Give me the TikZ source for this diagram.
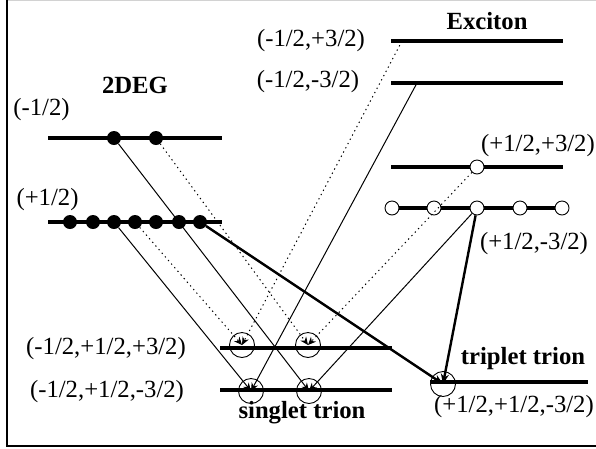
\documentclass[tikz,border=0pt]{standalone}
\usepackage{fontspec}
\setmainfont{Liberation Serif}
\usetikzlibrary{arrows.meta}
\begin{document}
\begin{tikzpicture}[x=1pt,y=-1pt,
 lev/.style={line width=4pt},
 fdot/.style={circle,fill=black,inner sep=0pt,minimum size=14pt},
 odot/.style={circle,draw=black,fill=white,line width=0.9pt,inner sep=0pt,minimum size=14pt},
 trc/.style={circle,draw=black,line width=0.9pt,inner sep=0pt,minimum size=25pt},
 lbl/.style={font=\fontsize{24.7}{28}\selectfont,inner sep=0pt},
 blbl/.style={font=\fontsize{24.7}{28}\selectfont\bfseries,inner sep=0pt},
 conn/.style={line width=1pt,-{Stealth[length=8pt,width=7pt]}},
 dconn/.style={conn,dash pattern=on 1.3pt off 3.5pt},
 hconn/.style={line width=2.4pt,-{Stealth[length=10pt,width=8pt]}}]
\useasboundingbox (0,0) rectangle (596,448);
% frame
\draw[gray!35,line width=1pt] (7,0.5) -- (596,0.5);
\draw[line width=1.5pt] (7,0) -- (7,446) -- (596,446);
% levels
\draw[lev] (48,138) -- (222,138);
\draw[lev] (48,222) -- (222,222);
\draw[lev] (391,41) -- (563,41);
\draw[lev] (391,83) -- (563,83);
\draw[lev] (391,167) -- (563,167);
\draw[lev] (392,208) -- (562,208);
\draw[lev] (220,348) -- (392,348);
\draw[lev] (220,390) -- (392,390);
\draw[lev] (430,382) -- (588,382);
% 2DEG electrons
\node[fdot] (a1) at (114,138) {};
\node[fdot] (a2) at (156,138) {};
\foreach \x/\n in {70/1,93/2,114/3,135/4,156/5,179/6,200/7}
  \node[fdot] (b\n) at (\x,222) {};
% exciton states
\coordinate (e1) at (402,41);
\coordinate (e2) at (417,83);
\node[odot] (o1) at (477,167) {};
\node[odot] (o2) at (392,208) {};
\node[odot] (o3) at (434,208) {};
\node[odot] (oc) at (477,208) {};
\node[odot] (o5) at (520,208) {};
\node[odot] (o6) at (562,208) {};
% trion circles
\node[trc] (s1) at (242,345) {};
\node[trc] (s2) at (308,345) {};
\node[trc] (s3) at (251,391) {};
\node[trc] (s4) at (309,391) {};
\node[trc] (t1) at (443,384) {};
% connectors
\draw[conn] (a1) -- (s4.center);
\draw[dconn] (a2) -- (s2.center);
\draw[conn] (b3) -- (s3.center);
\draw[dconn] (b4) -- (s1.center);
\draw[hconn] (b7) -- (t1.center);
\draw[dconn] (e1) -- (s1.center);
\draw[conn] (e2) -- (s3.center);
\draw[dconn] (o1) -- (s2.center);
\draw[conn] (oc) -- (s4.center);
\draw[hconn] (oc) -- (t1.center);
% labels
\node[blbl] (l2deg) at (135,85) {2DEG};
\node[lbl] (lm) at (41.5,110) {(-1/2)};
\node[lbl] (lp) at (47.5,200) {(+1/2)};
\node[lbl] (le1) at (311,41) {(-1/2,+3/2)};
\node[lbl] (le2) at (308,82) {(-1/2,-3/2)};
\node[blbl] (lex) at (487,21) {Exciton};
\node[lbl,anchor=east] (le3) at (595,146) {(+1/2,+3/2)};
\node[lbl] (le4) at (534,244) {(+1/2,-3/2)};
\node[lbl] (ls1) at (106,349) {(-1/2,+1/2,+3/2)};
\node[lbl] (ls2) at (107,392) {(-1/2,+1/2,-3/2)};
\node[blbl] (lst) at (302,413) {singlet trion};
\node[blbl] (ltt) at (523,359) {triplet trion};
\node[lbl] (lt) at (514,407) {(+1/2,+1/2,-3/2)};
\end{tikzpicture}
\end{document}
